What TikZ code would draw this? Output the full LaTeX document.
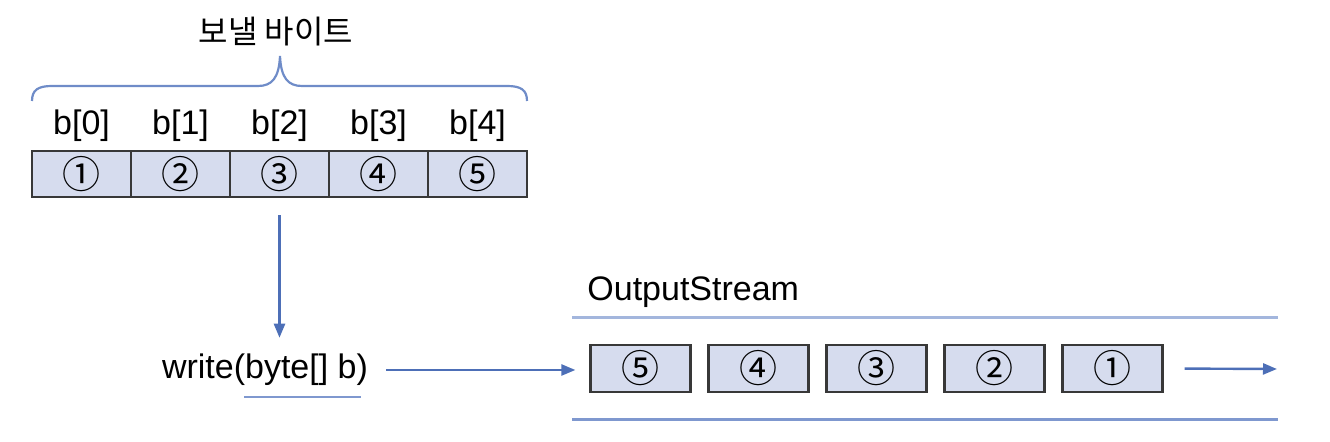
\documentclass[tikz,border=0pt]{standalone}
\usepackage{fontspec}
\setmainfont{Liberation Sans}
\newfontfamily\kofont{Noto Sans CJK KR}
\usetikzlibrary{arrows.meta}

\definecolor{cellfill}{HTML}{D6DCEE}
\definecolor{cellline}{HTML}{383838}
\definecolor{arrowblue}{HTML}{4D6FB7}
\definecolor{braceblue}{HTML}{6F8CC8}
\definecolor{lightline}{HTML}{A3B6DD}
\definecolor{darkline}{HTML}{7F98CF}

\tikzset{
  cell/.style={draw=cellline, fill=cellfill, line width=1.1pt, inner sep=0pt,
    minimum width=49.5pt, minimum height=23pt, font=\kofont\fontsize{19}{19}\selectfont},
  item/.style={cell, minimum width=50pt, minimum height=23.5pt},
  label/.style={inner sep=0pt, font=\fontsize{17}{17}\selectfont},
  arr/.style={draw=arrowblue, line width=1.2pt, -{Triangle[length=7pt,width=5.5pt]}}
}

\begin{document}
\begin{tikzpicture}[x=0.5pt,y=-0.5pt]
  \useasboundingbox (0,0) rectangle (1330,442);
  % array b[]
  \foreach \i/\c in {0/①,1/②,2/③,3/④,4/⑤}{
    \node[cell] (c\i) at (81.5+99*\i,174) {\c};
    \node[label] (b\i) at (81.5+99*\i,126) {b[\i]};
  }
  \draw[braceblue, line width=1.1pt] (32,101) .. controls (32,90) and (38,86) .. (52,86)
    -- (258,86) .. controls (272,86) and (279,78) .. (280,56)
    .. controls (281,78) and (288,86) .. (302,86) -- (507,86)
    .. controls (521,86) and (527,90) .. (527,101);
  \node[inner sep=0pt, font=\kofont\fontsize{16}{16}\selectfont] (title) at (276,32) {보낼 바이트};
  % write call
  \node[label] (write) at (265,370) {write(byte[] b)};
  \draw[darkline, line width=1.2pt] (244,397) -- (361,397);
  \draw[arr, shorten <=8.5pt, shorten >=8pt] (c2.south) -- (c2.south |- write.north);
  % output stream
  \node[label, anchor=west] (os) at (587,292) {OutputStream};
  \draw[lightline, line width=1.5pt] (572,318) -- (1278,318);
  \draw[darkline, line width=1.5pt] (572,420) -- (1278,420);
  \foreach \i/\c in {0/⑤,1/④,2/③,3/②,4/①}{
    \node[item] (s\i) at (640.5+118*\i,368.5) {\c};
  }
  \draw[arr, shorten <=9pt, shorten >=7pt] (write.east) -- (write.east -| s0.west);
  \coordinate (out) at (1277,369);
  \draw[arr, shorten <=10.5pt] (s4.east) -- (out);
\end{tikzpicture}
\end{document}
